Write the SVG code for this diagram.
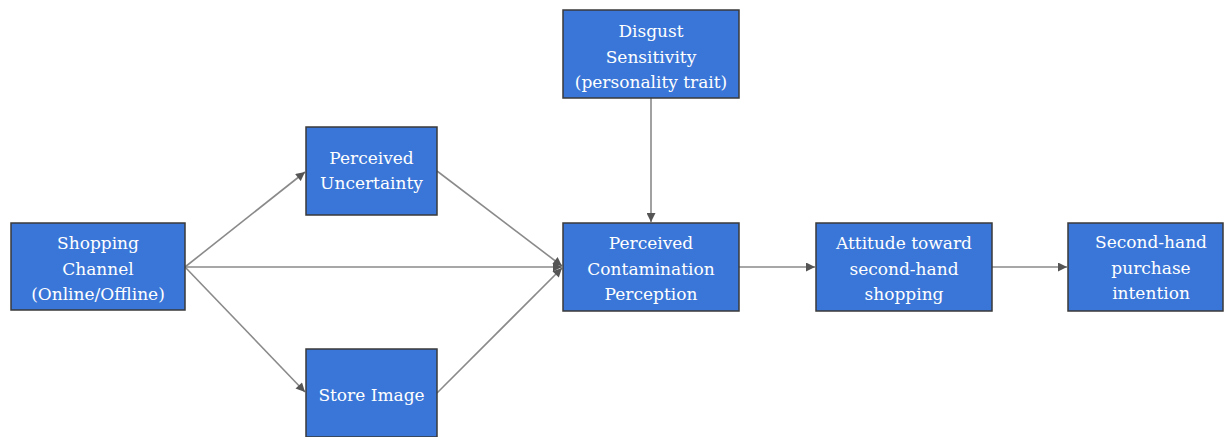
<svg xmlns="http://www.w3.org/2000/svg" width="1224" height="437" viewBox="0 0 1224 437">
<style>
.box{fill:#3a76d7;stroke:#3a3a3a;stroke-width:1.5}
.lbl{font-family:'DejaVu Serif','Liberation Serif',serif;font-size:17px;fill:#ffffff;text-anchor:middle}
.edge{stroke:#8a8a8a;stroke-width:1.6;fill:none;marker-end:url(#ah)}
</style>
<defs>
<marker id="ah" viewBox="0 0 10 10" refX="10" refY="5" markerWidth="10" markerHeight="9" markerUnits="userSpaceOnUse" orient="auto">
<path d="M0,0 L10,5 L0,10 z" fill="#555555"/>
</marker>
</defs>
<rect width="1224" height="437" fill="#ffffff"/>
<g id="connectors">
<line class="edge" x1="185" y1="267" x2="305" y2="172"/>
<line class="edge" x1="185" y1="267" x2="305" y2="392"/>
<line class="edge" x1="185" y1="267" x2="562" y2="267"/>
<line class="edge" x1="437" y1="171" x2="562" y2="266"/>
<line class="edge" x1="437" y1="393" x2="562" y2="268"/>
<line class="edge" x1="651" y1="98" x2="651" y2="222"/>
<line class="edge" x1="739" y1="267" x2="815" y2="267"/>
<line class="edge" x1="992" y1="267" x2="1067" y2="267"/>
</g>
<g id="shopping-channel">
<rect class="box" x="11" y="223" width="174" height="87"/>
<text class="lbl" x="98" y="249">Shopping</text>
<text class="lbl" x="98" y="275">Channel</text>
<text class="lbl" x="98" y="300">(Online/Offline)</text>
</g>
<g id="disgust-sensitivity">
<rect class="box" x="563" y="10" width="176" height="88"/>
<text class="lbl" x="651" y="37">Disgust</text>
<text class="lbl" x="651" y="63">Sensitivity</text>
<text class="lbl" x="651" y="88">(personality trait)</text>
</g>
<g id="perceived-uncertainty">
<rect class="box" x="306" y="127" width="131" height="88"/>
<text class="lbl" x="371.5" y="164">Perceived</text>
<text class="lbl" x="371.5" y="189">Uncertainty</text>
</g>
<g id="store-image">
<rect class="box" x="306" y="349" width="131" height="88"/>
<text class="lbl" x="371.5" y="401">Store Image</text>
</g>
<g id="perceived-contamination">
<rect class="box" x="563" y="223" width="176" height="88"/>
<text class="lbl" x="651" y="249">Perceived</text>
<text class="lbl" x="651" y="275">Contamination</text>
<text class="lbl" x="651" y="300">Perception</text>
</g>
<g id="attitude">
<rect class="box" x="816" y="223" width="176" height="88"/>
<text class="lbl" x="904" y="249">Attitude toward</text>
<text class="lbl" x="904" y="275">second-hand</text>
<text class="lbl" x="904" y="300">shopping</text>
</g>
<g id="purchase-intention">
<rect class="box" x="1068" y="223" width="155" height="88"/>
<text class="lbl" x="1151" y="248">Second-hand</text>
<text class="lbl" x="1151" y="274">purchase</text>
<text class="lbl" x="1151" y="299">intention</text>
</g>
</svg>
